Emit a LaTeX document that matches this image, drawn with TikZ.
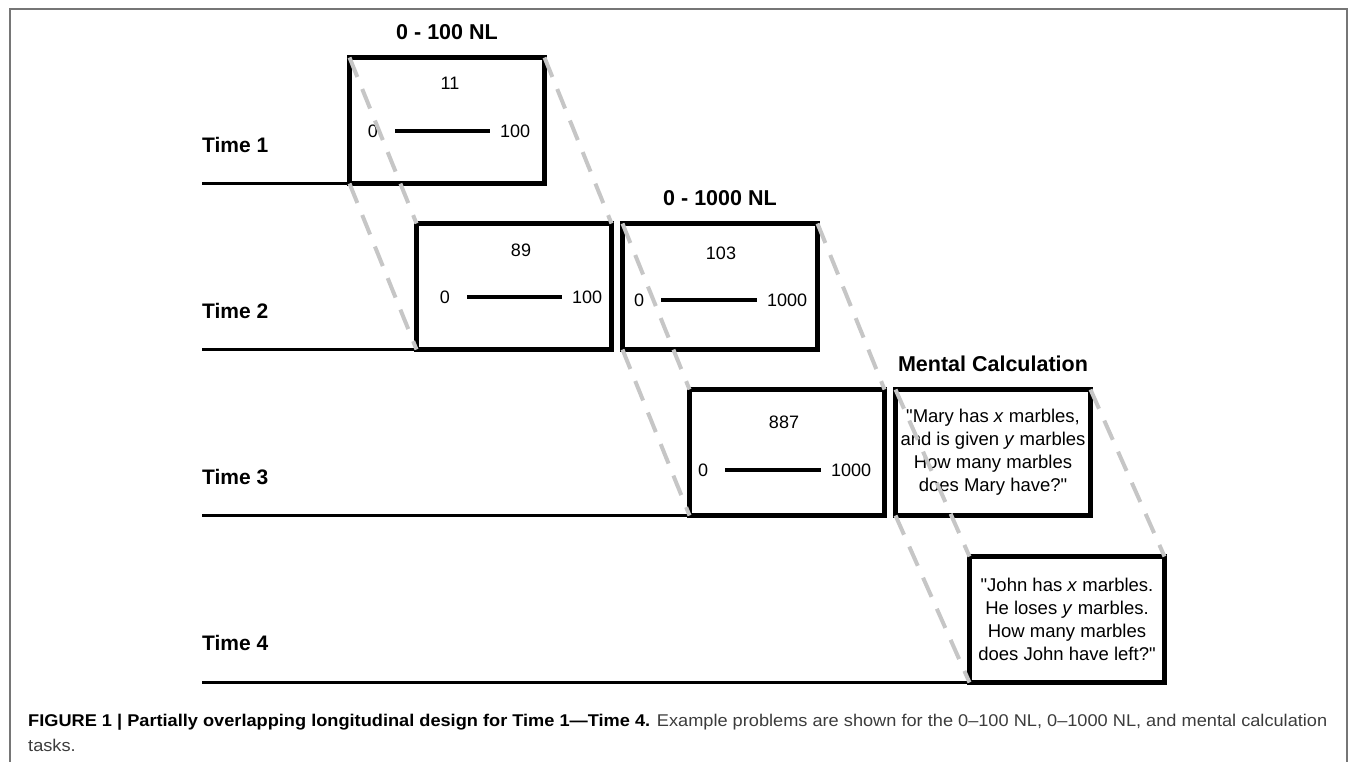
\documentclass[tikz,border=0pt]{standalone}
\usepackage{fontspec}
\setmainfont{Liberation Sans}
\newfontfamily\capfont{Liberation Sans}[Ligatures=TeX, FakeStretch=1.07]
\usepackage{tikz}
\usetikzlibrary{positioning, calc}
\definecolor{cProj}{HTML}{C6C6C6}
\definecolor{cFrame}{HTML}{767676}
\definecolor{cCap}{HTML}{3C3C3C}
\tikzset{
  taskbox/.style={
    rectangle, draw=black, line width=5pt, fill=white,
    minimum width=195pt, minimum height=126pt,
    inner sep=0pt, outer sep=0pt, anchor=north west,
    align=center, font=\fontsize{18.5}{23}\selectfont
  },
  timelbl/.style={anchor=west, inner sep=0pt, font=\fontsize{21}{25}\selectfont\bfseries},
  tasktitle/.style={inner sep=0pt, font=\fontsize{21.5}{26}\selectfont\bfseries},
  num/.style={inner sep=0pt, font=\fontsize{18}{22}\selectfont},
  hinum/.style={num, anchor=west},
  tline/.style={line width=3.5pt},
  nline/.style={line width=4pt, shorten <=17pt, shorten >=10pt},
  proj/.style={cProj, line width=4pt, dash pattern=on 21pt off 13pt},
  caption/.style={anchor=north west, inner sep=0pt, align=left, text=cCap,
    font=\capfont\fontsize{17}{25}\selectfont},
}

\begin{document}
\begin{tikzpicture}[x=1pt, y=-1pt]
  \useasboundingbox (0,0) rectangle (1355,762);
  \draw[cFrame, line width=1.5pt] (10,762) -- (10,9) -- (1347,9) -- (1347,762);

  % time rows
  \node[timelbl] (time1) at (202,145) {Time 1};
  \node[timelbl] (time2) at (202,311) {Time 2};
  \node[timelbl] (time3) at (202,477) {Time 3};
  \node[timelbl] (time4) at (202,643) {Time 4};

  % task boxes
  \node[taskbox] (t1nl)  at (349.5,57.5)  {};
  \node[taskbox] (t2nl)  at (416.5,223.5) {};
  \node[taskbox] (t2nlk) at (622.5,223.5) {};
  \node[taskbox] (t3nlk) at (689.5,389.5) {};
  \node[taskbox] (t3mc)  at (895.5,389.5) {
    \textquotedbl Mary has \textit{x} marbles,\\
    and is given \textit{y} marbles\\
    How many marbles\\
    does Mary have?\textquotedbl
  };
  \node[taskbox] (t4mc)  at (969.5,556.5) {
    \textquotedbl John has \textit{x} marbles.\\
    He loses \textit{y} marbles.\\
    How many marbles\\
    does John have left?\textquotedbl
  };

  \node[tasktitle, above=18pt of t1nl]  (ttl100)  {0 - 100 NL};
  \node[tasktitle, above=18pt of t2nlk] (ttl1000) {0 - 1000 NL};
  \node[tasktitle, above=18pt of t3mc]  (ttlmc)   {Mental Calculation};

  \draw[tline] (time1.west |- t1nl.south west) -- (t1nl.south west);
  \draw[tline] (time2.west |- t2nl.south west) -- (t2nl.south west);
  \draw[tline] (time3.west |- t3nlk.south west) -- (t3nlk.south west);
  \draw[tline] (time4.west |- t4mc.south west) -- (t4mc.south west);

  % number lines
  \node[num] (q1) at (450,83) {11};
  \node[num] (lo1) at (373,131) {0};
  \node[hinum] (hi1) at (500,131) {100};
  \draw[nline] (lo1) -- (hi1);

  \node[num] (q2) at (521,250) {89};
  \node[num] (lo2) at (445,297) {0};
  \node[hinum] (hi2) at (572,297) {100};
  \draw[nline] (lo2) -- (hi2);

  \node[num] (q3) at (721,253) {103};
  \node[num] (lo3) at (639,300) {0};
  \node[hinum] (hi3) at (767,300) {1000};
  \draw[nline] (lo3) -- (hi3);

  \node[num] (q4) at (784,422) {887};
  \node[num] (lo4) at (703,470) {0};
  \node[hinum] (hi4) at (831,470) {1000};
  \draw[nline] (lo4) -- (hi4);

  % overlap projections
  \draw[proj] (t1nl.north west) -- (t2nl.north west);
  \draw[proj] (t1nl.south west) -- (t2nl.south west);
  \draw[proj] (t1nl.north east) -- (t2nl.north east);
  \draw[proj] (t2nlk.north west) -- (t3nlk.north west);
  \draw[proj] (t2nlk.south west) -- (t3nlk.south west);
  \draw[proj] (t2nlk.north east) -- (t3nlk.north east);
  \draw[proj] (t3mc.north west) -- (t4mc.north west);
  \draw[proj] (t3mc.south west) -- (t4mc.south west);
  \draw[proj] (t3mc.north east) -- (t4mc.north east);

  \node[caption] (cap) at (28,714) {%
    \textbf{\color{black}FIGURE 1 | Partially overlapping longitudinal design for Time 1---Time 4.}
    Example problems are shown for the 0--100 NL, 0--1000 NL, and mental calculation\\
    tasks.};
\end{tikzpicture}
\end{document}
